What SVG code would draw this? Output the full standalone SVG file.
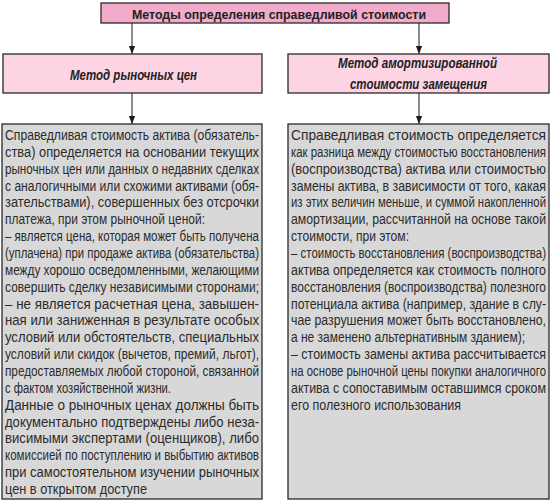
<svg xmlns="http://www.w3.org/2000/svg" width="551" height="503" viewBox="0 0 551 503">
<defs>
<marker id="ah" markerUnits="userSpaceOnUse" markerWidth="8" markerHeight="10" refX="9" refY="3.5" orient="auto" viewBox="0 0 9 7">
<path d="M0,0 L9,3.5 L0,7 Z" fill="#1a1a1a"/>
</marker>
<style>
.box{stroke:#2a2a2a;stroke-width:1.3}
.top{fill:#f2abcb}
.mid{fill:#fcd4e4}
.body{fill:#d8d8d8}
.ttl{font-family:"Liberation Sans",Arial,sans-serif;font-weight:bold;font-size:13.5px;fill:#222}
.sub{font-family:"Liberation Sans",Arial,sans-serif;font-weight:bold;font-style:italic;font-size:14.5px;fill:#222}
.t{font-family:"Liberation Sans",Arial,sans-serif;font-size:14px;fill:#2b2b2b}
.c{stroke:#1a1a1a;stroke-width:1;fill:none}
</style>
</defs>
<rect width="551" height="503" fill="#ffffff"/>
<g id="connectors">
<line class="c" x1="132" y1="23" x2="132" y2="54" marker-end="url(#ah)"/>
<line class="c" x1="419" y1="23" x2="419" y2="54" marker-end="url(#ah)"/>
<line class="c" x1="132" y1="93" x2="132" y2="124" marker-end="url(#ah)"/>
<line class="c" x1="419" y1="93" x2="419" y2="124" marker-end="url(#ah)"/>
</g>
<g id="node-top">
<rect class="box top" x="101" y="3" width="348" height="20"/>
<text class="ttl" x="132" y="18.5" textLength="294" lengthAdjust="spacingAndGlyphs">Методы определения справедливой стоимости</text>
</g>
<g id="node-market">
<rect class="box mid" x="3" y="54" width="259" height="39"/>
<text class="sub" x="70" y="80" textLength="127" lengthAdjust="spacingAndGlyphs">Метод рыночных цен</text>
</g>
<g id="node-amort">
<rect class="box mid" x="288" y="54" width="261" height="39"/>
<text class="sub" x="338" y="68" textLength="159" lengthAdjust="spacingAndGlyphs">Метод амортизированной</text>
<text class="sub" x="350" y="88.5" textLength="137" lengthAdjust="spacingAndGlyphs">стоимости замещения</text>
</g>
<g id="node-market-desc">
<rect class="box body" x="2" y="124" width="260" height="375"/>
<g class="t">
<text x="5" y="140" textLength="254" lengthAdjust="spacingAndGlyphs">Справедливая стоимость актива (обязатель-</text>
<text x="5" y="156.9" textLength="254" lengthAdjust="spacingAndGlyphs">ства) определяется на основании текущих</text>
<text x="5" y="173.7" textLength="254" lengthAdjust="spacingAndGlyphs">рыночных цен или данных о недавних сделках</text>
<text x="5" y="190.6" textLength="254" lengthAdjust="spacingAndGlyphs">с аналогичными или схожими активами (обя-</text>
<text x="5" y="207.4" textLength="254" lengthAdjust="spacingAndGlyphs">зательствами), совершенных без отсрочки</text>
<text x="5" y="224.3" textLength="200" lengthAdjust="spacingAndGlyphs">платежа, при этом рыночной ценой:</text>
<text x="5" y="241.1" textLength="254" lengthAdjust="spacingAndGlyphs">– является цена, которая может быть получена</text>
<text x="5" y="258" textLength="254" lengthAdjust="spacingAndGlyphs">(уплачена) при продаже актива (обязательства)</text>
<text x="5" y="274.9" textLength="254" lengthAdjust="spacingAndGlyphs">между хорошо осведомленными, желающими</text>
<text x="5" y="291.7" textLength="254" lengthAdjust="spacingAndGlyphs">совершить сделку независимыми сторонами;</text>
<text x="5" y="308.6" textLength="254" lengthAdjust="spacingAndGlyphs">– не является расчетная цена, завышен-</text>
<text x="5" y="325.4" textLength="254" lengthAdjust="spacingAndGlyphs">ная или заниженная в результате особых</text>
<text x="5" y="342.3" textLength="254" lengthAdjust="spacingAndGlyphs">условий или обстоятельств, специальных</text>
<text x="5" y="359.1" textLength="254" lengthAdjust="spacingAndGlyphs">условий или скидок (вычетов, премий, льгот),</text>
<text x="5" y="376" textLength="254" lengthAdjust="spacingAndGlyphs">предоставляемых любой стороной, связанной</text>
<text x="5" y="392.9" textLength="166" lengthAdjust="spacingAndGlyphs">с фактом хозяйственной жизни.</text>
<text x="5" y="409.7" textLength="254" lengthAdjust="spacingAndGlyphs">Данные о рыночных ценах должны быть</text>
<text x="5" y="426.6" textLength="254" lengthAdjust="spacingAndGlyphs">документально подтверждены либо неза-</text>
<text x="5" y="443.4" textLength="254" lengthAdjust="spacingAndGlyphs">висимыми экспертами (оценщиков), либо</text>
<text x="5" y="460.3" textLength="254" lengthAdjust="spacingAndGlyphs">комиссией по поступлению и выбытию активов</text>
<text x="5" y="477.1" textLength="254" lengthAdjust="spacingAndGlyphs">при самостоятельном изучении рыночных</text>
<text x="5" y="494" textLength="142" lengthAdjust="spacingAndGlyphs">цен в открытом доступе</text>
</g>
</g>
<g id="node-amort-desc">
<rect class="box body" x="288" y="124" width="261" height="375"/>
<g class="t">
<text x="291" y="140" textLength="255" lengthAdjust="spacingAndGlyphs">Справедливая стоимость определяется</text>
<text x="291" y="156.9" textLength="255" lengthAdjust="spacingAndGlyphs">как разница между стоимостью восстановления</text>
<text x="291" y="173.7" textLength="255" lengthAdjust="spacingAndGlyphs">(воспроизводства) актива или стоимостью</text>
<text x="291" y="190.6" textLength="255" lengthAdjust="spacingAndGlyphs">замены актива, в зависимости от того, какая</text>
<text x="291" y="207.4" textLength="255" lengthAdjust="spacingAndGlyphs">из этих величин меньше, и суммой накопленной</text>
<text x="291" y="224.3" textLength="255" lengthAdjust="spacingAndGlyphs">амортизации, рассчитанной на основе такой</text>
<text x="291" y="241.1" textLength="118" lengthAdjust="spacingAndGlyphs">стоимости, при этом:</text>
<text x="291" y="258" textLength="255" lengthAdjust="spacingAndGlyphs">–  стоимость восстановления (воспроизводства)</text>
<text x="291" y="274.9" textLength="255" lengthAdjust="spacingAndGlyphs">актива определяется как стоимость полного</text>
<text x="291" y="291.7" textLength="255" lengthAdjust="spacingAndGlyphs">восстановления (воспроизводства) полезного</text>
<text x="291" y="308.6" textLength="255" lengthAdjust="spacingAndGlyphs">потенциала актива (например, здание в слу-</text>
<text x="291" y="325.4" textLength="255" lengthAdjust="spacingAndGlyphs">чае разрушения может быть восстановлено,</text>
<text x="291" y="342.3" textLength="234" lengthAdjust="spacingAndGlyphs">а не заменено альтернативным зданием);</text>
<text x="291" y="359.1" textLength="255" lengthAdjust="spacingAndGlyphs">–  стоимость замены актива рассчитывается</text>
<text x="291" y="376" textLength="255" lengthAdjust="spacingAndGlyphs">на основе рыночной цены покупки аналогичного</text>
<text x="291" y="392.9" textLength="255" lengthAdjust="spacingAndGlyphs">актива с сопоставимым оставшимся сроком</text>
<text x="291" y="409.7" textLength="170" lengthAdjust="spacingAndGlyphs">его полезного использования</text>
</g>
</g>
</svg>
